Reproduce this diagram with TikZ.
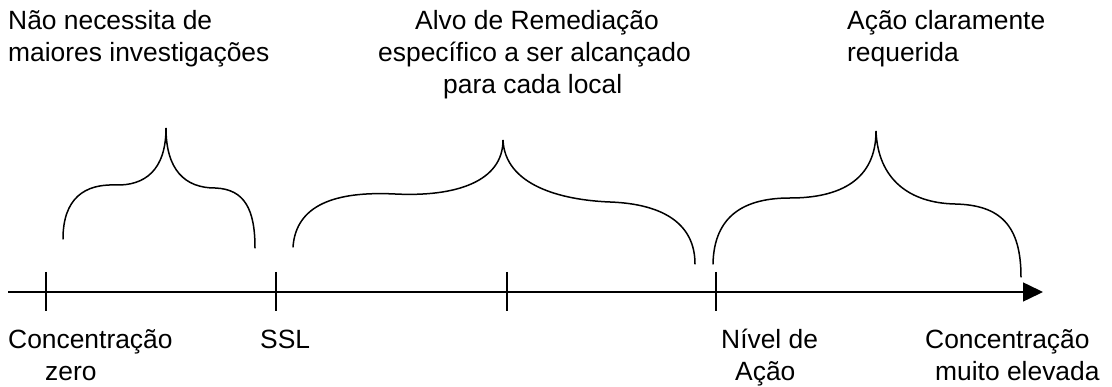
\documentclass[tikz,border=0pt]{standalone}
\usepackage{fontspec}
\setmainfont{Liberation Sans}
\usetikzlibrary{arrows.meta}
\begin{document}
\begin{tikzpicture}[x=1pt,y=-1pt,
  line/.style={line width=1.5pt,black},
  brace/.style={line width=1.5pt,black,line cap=round},
  label/.style={inner sep=0pt,anchor=base west,align=left,
    font=\fontsize{26.4pt}{32pt}\selectfont}]
\useasboundingbox (0,0) rectangle (1112,387);
% axis
\coordinate (a0) at (8,292);
\coordinate (a1) at (1043,292);
\draw[line,-{Triangle[length=20pt,width=19pt]}] (a0) -- (a1);
% ticks
\foreach \n/\x in {t1/46,t2/276,t3/507,t4/716}{
  \coordinate (\n top) at (\x,272);
  \coordinate (\n bot) at (\x,311);
  \draw[line] (\n top) -- (\n bot);
}
% braces
\draw[brace] (63,239) .. controls (63,198) and (85,184) .. (115,185)
  .. controls (145,186) and (166,170) .. (166,128)
  .. controls (166,170) and (185,188) .. (215,188)
  .. controls (245,189) and (255,210) .. (255,248);
\draw[brace] (293,247) .. controls (296,205) and (335,191) .. (395,194)
  .. controls (455,197) and (503,182) .. (503,140)
  .. controls (505,185) and (560,200) .. (610,202)
  .. controls (665,204) and (695,225) .. (695,264);
\draw[brace] (713,264) .. controls (714,215) and (745,198) .. (790,198)
  .. controls (840,198) and (876,180) .. (876,131)
  .. controls (878,180) and (910,203) .. (955,204)
  .. controls (1000,205) and (1021,225) .. (1021,277);
% texts (base anchor = baseline of last line)
\node[label] (n1) at (8,62) {Não necessita de\\maiores investigações};
\node[label] (n2) at (378,94) {\hspace*{37pt}Alvo de Remediação\\específico a ser alcançado\\\hspace*{65pt}para cada local};
\node[label] (n3) at (847,62) {Ação claramente\\requerida};
\node[label] (b1) at (8,381) {Concentração\\\hspace*{37pt}zero};
\node[label] (b2) at (260,349) {SSL};
\node[label] (b3) at (721,381) {Nível de\\\hspace*{14pt}Ação};
\node[label] (b4) at (925,381) {Concentração\\\hspace*{10pt}muito elevada};
\end{tikzpicture}
\end{document}
